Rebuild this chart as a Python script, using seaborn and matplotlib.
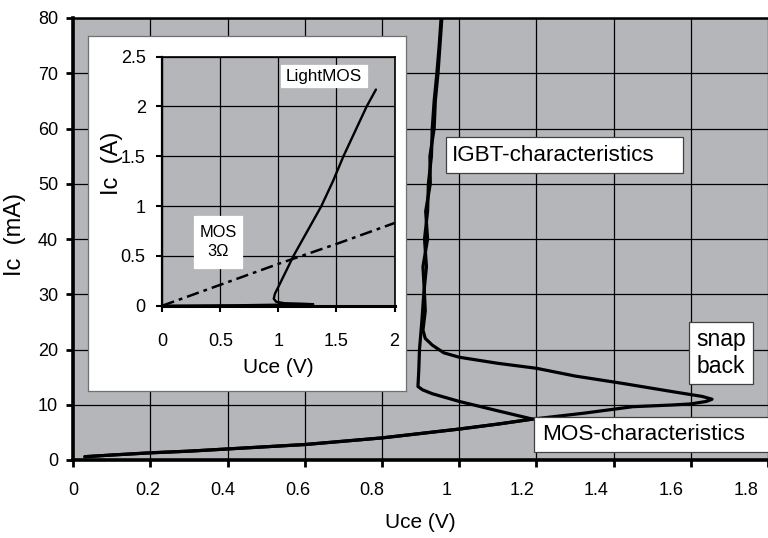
import matplotlib
matplotlib.use("Agg")
import matplotlib.pyplot as plt
import seaborn as sns
import pandas as pd
from matplotlib.patches import Rectangle

# ---------------- data ----------------
# MOS part of the main characteristic (shared by both sweeps)
mos_x = [0.03, 0.1, 0.2, 0.3, 0.4, 0.5, 0.6, 0.7, 0.8, 0.9, 1.0, 1.1, 1.19]
mos_y = [0.6, 0.9, 1.3, 1.6, 2.0, 2.4, 2.8, 3.4, 4.0, 4.8, 5.6, 6.5, 7.4]

# sweep A: early snap back at ~1.19 V
snapA_x = [1.1, 1.0, 0.93, 0.905, 0.893, 0.895, 0.897, 0.903, 0.908, 0.915, 0.91,
           0.918, 0.92, 0.928, 0.93, 0.935, 0.942, 0.948, 0.953]
snapA_y = [8.9, 10.6, 12.0, 12.7, 13.3, 16, 20, 25, 30, 35, 40,
           45, 50, 55, 60, 65, 70, 75, 80]

# sweep B: late snap back at ~1.65 V
snapB_x = [1.32, 1.45, 1.55, 1.6, 1.64, 1.655, 1.63, 1.55, 1.42, 1.3, 1.2, 1.1,
           1.0, 0.96, 0.93, 0.912, 0.906, 0.912, 0.91, 0.906, 0.918, 0.913,
           0.925, 0.924, 0.935, 0.938, 0.945, 0.95, 0.955]
snapB_y = [8.45, 9.65, 9.95, 10.15, 10.6, 11.0, 11.5, 12.4, 13.9, 15.2, 16.6, 17.5,
           18.6, 19.4, 20.8, 22.0, 23.5, 27, 30, 35, 40, 45,
           50, 55, 60, 65, 70, 75, 80]

# inset: LightMOS (solid) and MOS 3 Ohm (dashed)
lm_x = [0.0, 0.7, 1.3, 1.2, 1.05, 0.98, 0.96, 0.97, 1.0, 1.13, 1.25, 1.37,
        1.47, 1.56, 1.66, 1.76, 1.84]
lm_y = [0.0, 0.005, 0.015, 0.02, 0.025, 0.04, 0.07, 0.12, 0.19, 0.5, 0.75, 1.0,
        1.25, 1.5, 1.75, 2.0, 2.17]
mos3_x = [0.0, 0.5, 1.0, 1.5, 2.0]
mos3_y = [0.0, 0.21, 0.42, 0.62, 0.83]

main_xticks = [0, 0.2, 0.4, 0.6, 0.8, 1.0, 1.2, 1.4, 1.6, 1.8]
main_xticklabels = ["0", "0.2", "0.4", "0.6", "0.8", "1", "1.2", "1.4", "1.6", "1.8"]
main_yticks = [0, 10, 20, 30, 40, 50, 60, 70, 80]
inset_xticks = [0, 0.5, 1.0, 1.5, 2.0]
inset_xticklabels = ["0", "0.5", "1", "1.5", "2"]
inset_yticks = [0, 0.5, 1.0, 1.5, 2.0, 2.5]
inset_yticklabels = ["0", "0.5", "1", "1.5", "2", "2.5"]

# ---------------- style ----------------
sns.set_theme(style="white")
plt.rcParams["font.family"] = ["Liberation Sans", "DejaVu Sans"]
plt.rcParams["text.color"] = "black"
plt.rcParams["axes.labelcolor"] = "black"
plt.rcParams["xtick.color"] = "black"
plt.rcParams["ytick.color"] = "black"

W, H = 768, 538
fig = plt.figure(figsize=(W / 100, H / 100), dpi=100)
fig.patch.set_facecolor("white")


def fbox(x0, y0, x1, y1):
    """pixel box (top-left origin) -> figure fraction [l, b, w, h]"""
    return [x0 / W, 1 - y1 / H, (x1 - x0) / W, (y1 - y0) / H]


GREY = "#b5b6b9"

# ---------------- main axes ----------------
ax = fig.add_axes(fbox(73.3, 18, 768, 460))
ax.set_facecolor(GREY)
ax.set_xlim(0, (768 - 73.3) / 390.0)
ax.set_ylim(0, 80)

dfA = pd.DataFrame({"Uce": mos_x + snapA_x, "Ic": mos_y + snapA_y})
dfB = pd.DataFrame({"Uce": mos_x + snapB_x, "Ic": mos_y + snapB_y})
for d in (dfA, dfB):
    sns.lineplot(data=d, x="Uce", y="Ic", sort=False, estimator=None, ax=ax,
                 color="black", lw=2.3, zorder=3)

ax.xaxis.remove_overlapping_locs = False
ax.set_xticks(main_xticks)
ax.set_xticklabels([""] * len(main_xticks))
label_scale = 377.6 / 390.0
ax.set_xticks([v * label_scale for v in main_xticks], minor=True)
ax.set_xticklabels(main_xticklabels, minor=True, fontsize=13)
ax.set_yticks(main_yticks)
ax.set_yticklabels([str(v) for v in main_yticks], fontsize=13)
ax.tick_params(axis="x", which="major", direction="out", length=5, width=2, bottom=True)
ax.tick_params(axis="x", which="minor", length=0, pad=16)
ax.tick_params(axis="y", which="major", direction="out", length=5, width=2, left=True, pad=6)
ax.grid(True, which="major", color="black", lw=0.9)
ax.set_axisbelow(True)
for s, lw in (("left", 2.6), ("bottom", 2.6), ("top", 1.8)):
    ax.spines[s].set_visible(True)
    ax.spines[s].set_color("black")
    ax.spines[s].set_linewidth(lw)
ax.spines["right"].set_visible(False)
ax.set_xlabel("Uce (V)", fontsize=15)
ax.set_ylabel("Ic  (mA)", fontsize=17)
ax.xaxis.set_label_coords(0.5, -0.12)
ax.yaxis.set_label_coords(-0.068, 0.51)


def boxed_text(x0, y0, x1, y1, text, tx, ty, size, ha="center", ls=1.0, ec="#404040"):
    fig.patches.append(Rectangle((x0 / W, 1 - y1 / H), (x1 - x0) / W, (y1 - y0) / H,
                                 transform=fig.transFigure, facecolor="white",
                                 edgecolor=ec, lw=0.9, zorder=10))
    fig.text(tx / W, 1 - ty / H, text, ha=ha, va="center", fontsize=size,
             linespacing=ls, zorder=11)


boxed_text(445.7, 137, 682.7, 173, "IGBT-characteristics", 451.7, 155.5, 16.2, ha="left")
boxed_text(689.3, 321.7, 753.3, 384.3, "snap\nback", 721, 353, 16.5, ls=1.2)
boxed_text(534.3, 416.7, 780, 452.3, "MOS-characteristics", 541.7, 435, 16.2, ha="left")

# ---------------- inset ----------------
bg = fig.add_axes(fbox(87.7, 35.7, 405.7, 390.7))
bg.set_xticks([])
bg.set_yticks([])
bg.set_facecolor("white")
for s in bg.spines.values():
    s.set_visible(True)
    s.set_color("#707070")
    s.set_linewidth(0.9)
bg.set_zorder(5)

axi = fig.add_axes(fbox(162.3, 56.7, 394.5, 305.7))
axi.set_zorder(6)
axi.set_facecolor(GREY)
axi.set_xlim(0, 2.0)
axi.set_ylim(0, 2.5)
sns.lineplot(x=mos3_x, y=mos3_y, ax=axi, color="black", lw=1.8, sort=False,
             estimator=None, linestyle=(0, (5, 2, 1.5, 2)), zorder=3)
sns.lineplot(x=lm_x, y=lm_y, ax=axi, color="black", lw=1.7, sort=False,
             estimator=None, zorder=4)
axi.set_xticks(inset_xticks)
axi.set_xticklabels(inset_xticklabels, fontsize=13)
axi.set_yticks(inset_yticks)
axi.set_yticklabels(inset_yticklabels, fontsize=13)
axi.tick_params(axis="x", direction="out", length=4, width=1.5, bottom=True, pad=16)
axi.tick_params(axis="y", direction="out", length=4, width=1.5, left=True, pad=8)
axi.grid(True, color="black", lw=0.9)
axi.set_axisbelow(True)
for s, lw in (("left", 1.6), ("bottom", 2.2), ("top", 1.2), ("right", 1.2)):
    axi.spines[s].set_visible(True)
    axi.spines[s].set_color("black")
    axi.spines[s].set_linewidth(lw)
axi.set_xlabel("Uce (V)", fontsize=15)
axi.set_ylabel("Ic  (A)", fontsize=17)
axi.xaxis.set_label_coords(0.5, -0.21)
axi.yaxis.set_label_coords(-0.17, 0.57)

boxed_text(280.7, 65, 367.3, 87.3, "LightMOS", 324, 76.5, 12.3, ec="white")
boxed_text(194.3, 216, 241.7, 267.7, "MOS\n3Ω", 218, 242, 11.8, ls=1.4, ec="white")

fig.savefig("out.png", dpi=100)
